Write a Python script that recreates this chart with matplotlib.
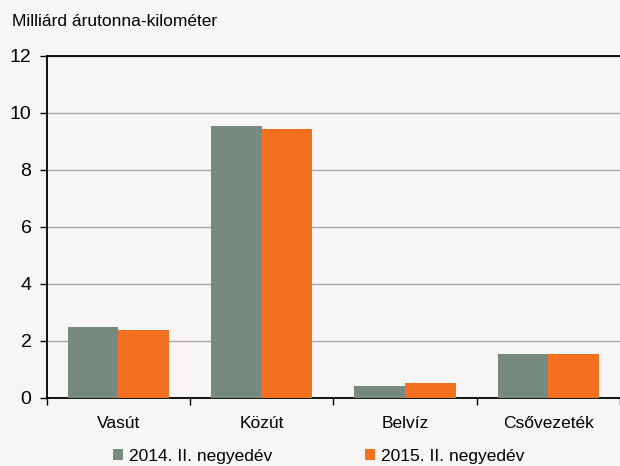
import numpy as np
import matplotlib
matplotlib.use('Agg')
import matplotlib.pyplot as plt

categories = ['Vasút', 'Közút', 'Belvíz', 'Csővezeték']
series_2014 = [2.49, 9.55, 0.39, 1.52]
series_2015 = [2.38, 9.45, 0.52, 1.53]
labels = ['2014. II. negyedév', '2015. II. negyedév']
yticks = [0, 2, 4, 6, 8, 10, 12]

BG = '#f7f6f4'
GRAY = '#778a80'
ORANGE = '#f47021'

plt.rcParams['font.family'] = ['Liberation Sans', 'DejaVu Sans']

fig = plt.figure(figsize=(6.2, 4.66), dpi=100, facecolor=BG)
ax = fig.add_axes([46.7 / 620, 1 - 397.5 / 466, 1 - 46.7 / 620, (397.5 - 56) / 466])
ax.set_facecolor(BG)

x = np.arange(len(categories))
w = 0.354
ax.bar(x - w / 2, series_2014, w, color=GRAY, label=labels[0], zorder=3)
ax.bar(x + w / 2, series_2015, w, color=ORANGE, label=labels[1], zorder=3)

ax.set_ylim(0, 12)
ax.set_xlim(-0.5, 3.443)
ax.set_yticks(yticks)
ax.yaxis.grid(True, color='#a6a6a6', lw=1.0, zorder=0)
ax.tick_params(axis='y', direction='out', length=5, width=1, labelsize=14,
               pad=6, colors='black')

ax.set_xticks(x)
ax.set_xticklabels(categories, fontsize=12.5)
ax.tick_params(axis='x', length=0, pad=13)
ax.set_xticks(np.arange(-0.5, 4.0, 1.0), minor=True)
ax.tick_params(axis='x', which='minor', direction='out', length=5, width=1)

for s in ['left', 'bottom', 'top']:
    ax.spines[s].set_color('black')
    ax.spines[s].set_linewidth(1.3)
ax.spines['right'].set_visible(False)

fig.text(12 / 620, 1 - 22 / 466, 'Milliárd árutonna-kilométer', fontsize=12.5,
         va='center', ha='left')

fig.legend(loc='center', bbox_to_anchor=(0.514, 1 - 456 / 466), ncol=2,
           frameon=False, fontsize=12.5, handlelength=0.6, handleheight=0.6,
           handletextpad=0.35, columnspacing=5.3, borderaxespad=0)

fig.savefig('out.png', dpi=100, facecolor=BG)
